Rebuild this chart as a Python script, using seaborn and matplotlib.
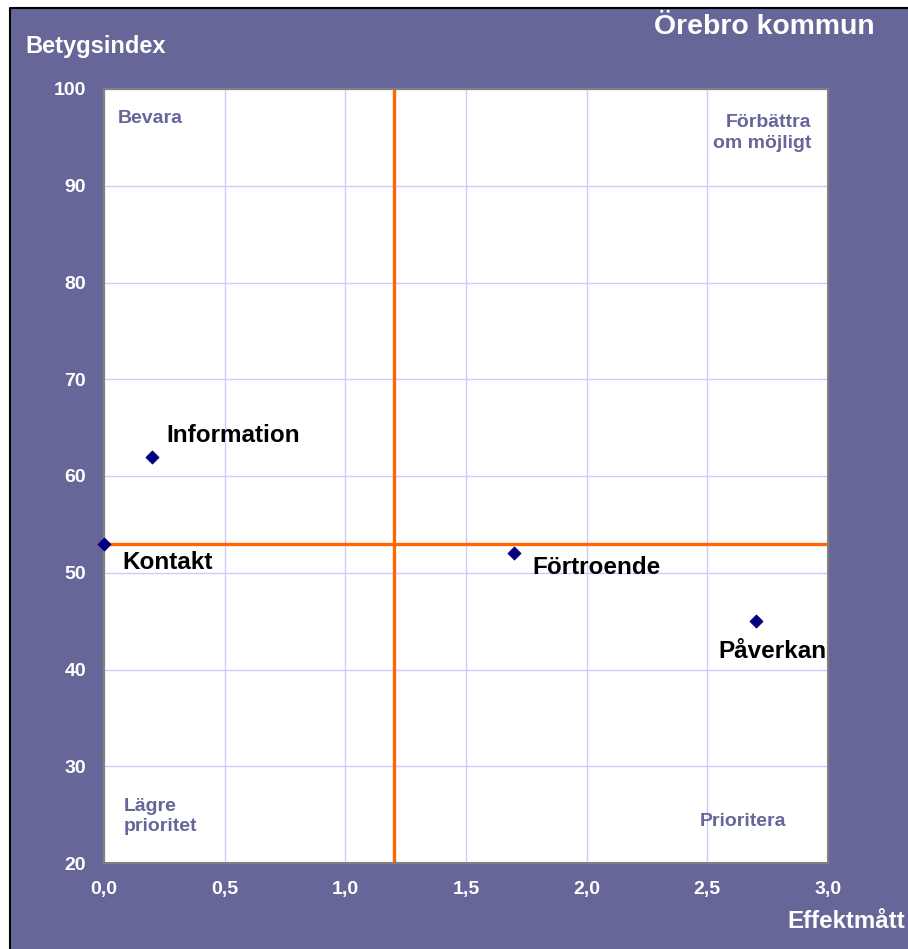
import matplotlib
matplotlib.use("Agg")
import matplotlib.pyplot as plt
import pandas as pd
import seaborn as sns
from matplotlib.patches import Rectangle
from matplotlib.lines import Line2D

# data
areas = ["Information", "Kontakt", "Förtroende", "Påverkan"]
effekt = [0.2, 0.0, 1.7, 2.7]
betyg = [62, 53, 52, 45]
label_offsets = [(14, 21), (18, -19), (18, -14), (-37, -30)]  # pixels

x_ticks = [0.0, 0.5, 1.0, 1.5, 2.0, 2.5, 3.0]
x_ticklabels = ["0,0", "0,5", "1,0", "1,5", "2,0", "2,5", "3,0"]
y_ticks = [20, 30, 40, 50, 60, 70, 80, 90, 100]

x_split = 1.2
y_split = 53

purple = "#666699"
orange = "#FF6600"
navy = "#000080"

sns.set_theme(style="white")
plt.rcParams["font.family"] = ["Liberation Sans", "DejaVu Sans"]
plt.rcParams["font.weight"] = "bold"

df = pd.DataFrame({"area": areas, "effekt": effekt, "betyg": betyg})

fig = plt.figure(figsize=(9.08, 9.49), dpi=100, facecolor="white")
x0, y1 = 10 / 908, 1 - 8 / 949
fig.patches.append(Rectangle((x0, 0), 1 - x0, y1, transform=fig.transFigure,
                             facecolor=purple, edgecolor="none", zorder=-10))
# black frame only on the visible top and left edges
fig.lines.append(Line2D([x0, x0, 1], [0, y1, y1], transform=fig.transFigure,
                        color="black", linewidth=1.5))

ax = fig.add_axes([104 / 908, 1 - 863 / 949, 724 / 908, 774 / 949])
ax.set_facecolor("white")

ax.set_xlim(0, 3)
ax.set_ylim(20, 100)
ax.set_xticks(x_ticks)
ax.set_xticklabels(x_ticklabels)
ax.set_yticks(y_ticks)
ax.grid(True, color="#CCCCFF", linewidth=1.0)
ax.set_axisbelow(True)
for sp in ax.spines.values():
    sp.set_color("#808080")
    sp.set_linewidth(1.5)
ax.tick_params(axis="both", direction="in", length=4, width=1, color="#808080",
               labelcolor="white", labelsize=14, pad=13)
for lab in ax.get_xticklabels() + ax.get_yticklabels():
    lab.set_fontweight("bold")

ax.axvline(x_split, color=orange, linewidth=2.4, zorder=2)
ax.axhline(y_split, color=orange, linewidth=2.4, zorder=2)

sns.scatterplot(data=df, x="effekt", y="betyg", marker="D", s=45, color=navy,
                edgecolor=navy, ax=ax, zorder=5, clip_on=False, legend=False)
ax.set_xlabel("")
ax.set_ylabel("")

for name, xv, yv, off in zip(areas, effekt, betyg, label_offsets):
    ax.annotate(name, (xv, yv), xytext=off, textcoords="offset pixels",
                ha="left", va="center", fontsize=17.5, fontweight="bold",
                color="black", zorder=6)

qkw = dict(fontsize=14, fontweight="bold", color=purple, linespacing=1.25)
ax.text(0.058, 96.9, "Bevara", ha="left", va="center", **qkw)
ax.text(2.93, 95.45, "Förbättra\nom möjligt", ha="right", va="center",
        multialignment="right", **qkw)
ax.text(0.083, 24.8, "Lägre\nprioritet", ha="left", va="center",
        multialignment="left", **qkw)
ax.text(2.646, 24.34, "Prioritera", ha="center", va="center", **qkw)

fig.text(25 / 908, 1 - 46 / 949, "Betygsindex", ha="left", va="center",
         fontsize=17, fontweight="bold", color="white")
fig.text(875 / 908, 1 - 27 / 949, "Örebro kommun", ha="right", va="center",
         fontsize=20.4, fontweight="bold", color="white")
fig.text(905 / 908, 1 - 921 / 949, "Effektmått", ha="right", va="center",
         fontsize=17.4, fontweight="bold", color="white")

fig.savefig("out.png", dpi=100, facecolor=fig.get_facecolor())
